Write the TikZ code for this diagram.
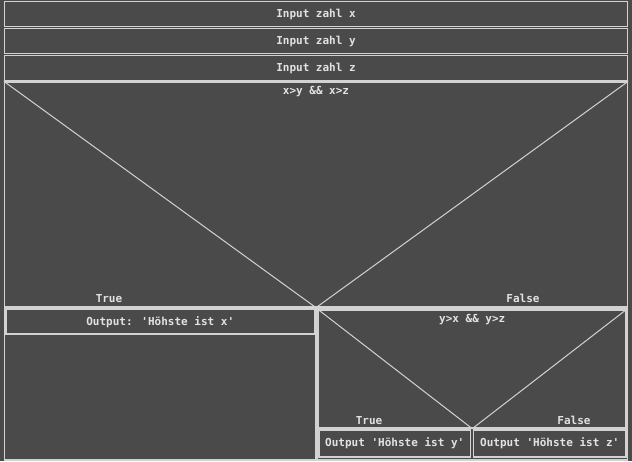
\documentclass[tikz,border=0pt]{standalone}
\usepackage{fontspec}
\newfontfamily\nsfont[Ligatures=TeXOff]{DejaVu Sans Mono}
\definecolor{nsbg}{HTML}{4A4A4A}
\definecolor{nsline}{HTML}{D2D2D2}
\definecolor{nstext}{HTML}{E2E2E2}
\begin{document}
\begin{tikzpicture}[x=1pt,y=-1pt,
	blk/.style={draw=nsline, fill=nsbg, line width=1.3pt, inner sep=0pt},
	txt/.style={text=nstext, font=\nsfont\bfseries\fontsize{11}{13}\selectfont, inner sep=1pt},
	diag/.style={draw=nsline, line width=1pt}]
	% background, fixes the margins
	\fill[nsbg] (0,0) rectangle (632,461);
	% input blocks
	\node[blk, txt, minimum width=623pt, minimum height=25pt] (inx) at (316,14) {Input zahl x};
	\node[blk, txt, minimum width=623pt, minimum height=25pt] (iny) at (316,41) {Input zahl y};
	\node[blk, txt, minimum width=623pt, minimum height=25pt] (inz) at (316,68) {Input zahl z};
	% first decision
	\node[blk, minimum width=623pt, minimum height=225pt] (cx) at (316,194.5) {};
	\draw[diag] (cx.north west) -- (cx.south) -- (cx.north east);
	\node[txt, anchor=north] (qx) at ([yshift=-4pt]cx.north) {x>y \&\& x>z};
	\node[txt, anchor=south] (tx) at (109,304) {True};
	\node[txt, anchor=south] (fx) at (523,304) {False};
	% true branch
	\node[blk, minimum width=311.5pt, minimum height=152pt] (lb) at (160.25,384) {};
	\node[blk, txt, minimum width=308.5pt, minimum height=24.5pt] (ox) at (160.25,321.75) {Output: 'Höhste ist x'};
	% false branch, second decision
	\node[blk, minimum width=310.5pt, minimum height=152pt] (rb) at (472.25,384) {};
	\node[blk, minimum width=307.5pt, minimum height=118pt] (cy) at (472.25,369) {};
	\draw[diag] (cy.north west) -- (cy.south) -- (cy.north east);
	\node[txt, anchor=north] (qy) at ([yshift=-4pt]cy.north) {y>x \&\& y>z};
	\node[txt, anchor=south] (ty) at (369,426) {True};
	\node[txt, anchor=south] (fy) at (574,426) {False};
	\node[blk, txt, minimum width=151.5pt, minimum height=27pt] (oy) at (394.75,443.5) {Output 'Höhste ist y'};
	\node[blk, txt, minimum width=152.5pt, minimum height=27pt] (oz) at (549.75,443.5) {Output 'Höhste ist z'};
\end{tikzpicture}
\end{document}
